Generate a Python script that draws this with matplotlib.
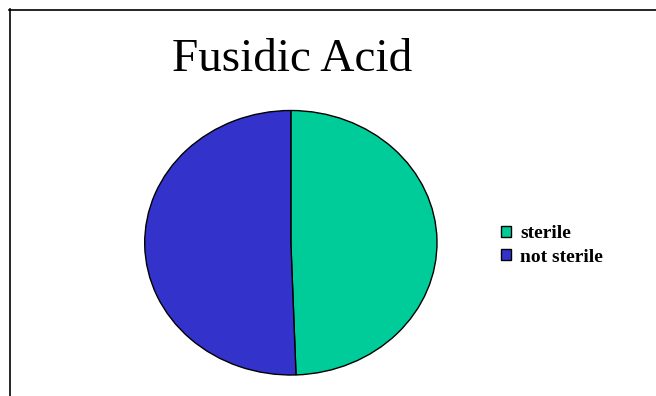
import matplotlib.pyplot as plt
from matplotlib.lines import Line2D
from matplotlib.patches import Patch

labels = ["sterile", "not sterile"]
counts = [44, 45]
colors = ["#00CC99", "#3333CC"]

W, H = 656, 396
fig = plt.figure(figsize=(W / 100, H / 100), dpi=100)
fig.patch.set_facecolor("white")

# pie area in pixels (left, bottom, width, height); slightly wider than tall
px_left, px_top, px_right, px_bottom = 144.7, 110.5, 437.0, 375.0
ax = fig.add_axes([px_left / W, (H - px_bottom) / H,
                   (px_right - px_left) / W, (px_bottom - px_top) / H])

ax.pie(counts, colors=colors, startangle=90, counterclock=False,
       wedgeprops=dict(edgecolor="black", linewidth=1.0))
ax.set_aspect("auto")
ax.set_xlim(-1, 1)
ax.set_ylim(-1, 1)
ax.axis("off")

fig.text(292 / W, (H - 71) / H, "Fusidic Acid", ha="center", va="baseline",
         family="Liberation Serif", fontsize=34, color="black")

handles = [Patch(facecolor=c, edgecolor="black", linewidth=1.0) for c in colors]
fig.legend(handles, labels, loc="center left",
           bbox_to_anchor=(501 / W, (H - 245.5) / H),
           frameon=False, handlelength=0.5, handleheight=0.5,
           handletextpad=0.5, labelspacing=0.33, borderpad=0,
           borderaxespad=0,
           prop=dict(family="Liberation Serif", weight="bold", size=14))

# outer frame: top and left edges only
fig.add_artist(Line2D([9 / W, 1], [(H - 9.5) / H] * 2, color="black", linewidth=1.2))
fig.add_artist(Line2D([9.5 / W] * 2, [0, (H - 9) / H], color="black", linewidth=1.2))

fig.savefig("out.png", dpi=100, facecolor="white")
